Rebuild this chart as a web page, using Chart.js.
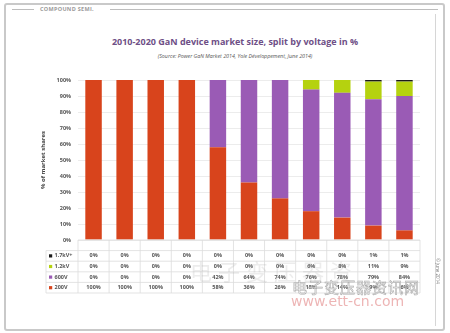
<!DOCTYPE html>
<html>
<head>
<meta charset="utf-8">
<script src="https://cdn.jsdelivr.net/npm/chart.js@4/dist/chart.umd.min.js"></script>
<style>
  html, body { margin: 0; padding: 0; background: #fff; }
  body { width: 450px; height: 333px; position: relative; overflow: hidden; font-family: "Open Sans", sans-serif; }
  .frame { position: absolute; left: 4px; top: 3px; width: 437px; height: 324px; border: 2px solid #c9c9c9; border-radius: 3px; }
  .inner-rule { position: absolute; left: 435px; top: 14px; width: 1px; height: 312px; background: #d6d6d6; }
  .header-line { position: absolute; top: 9px; height: 1px; background: #bdbdbd; }
  .header { position: absolute; left: 40px; top: 5px; font-size: 5.5px; font-weight: bold; color: #9a9a9a; letter-spacing: 0.3px; }
  .title { position: absolute; left: 0; width: 470px; top: 35px; text-align: center; font-size: 9px; font-weight: bold; color: #6e4f86; }
  .subtitle { position: absolute; left: 0; width: 470px; top: 52px; text-align: center; font-size: 5.3px; font-style: italic; color: #555; }
  canvas#chart { position: absolute; left: 0; top: 0; }
  .stamp { position: absolute; left: 425px; top: 268px; font-size: 4.5px; color: #777; transform: rotate(90deg); transform-origin: center; white-space: nowrap; }
  .wm-cn { position: absolute; left: 292px; top: 276px; font-family: "Noto Sans CJK SC", sans-serif; font-size: 15px; color: rgba(255,255,255,0.6); -webkit-text-stroke: 0.6px rgba(150,150,150,0.8); letter-spacing: 1px; }
  .wm-url { position: absolute; left: 291px; top: 293px; font-family: "DejaVu Sans", sans-serif; font-size: 14px; color: rgba(230,150,150,0.7); }
  .wm-back { position: absolute; left: 190px; top: 254px; font-family: "Noto Sans CJK SC", sans-serif; font-size: 22px; color: rgba(170,170,170,0.22); letter-spacing: 6px; }
</style>
</head>
<body>
<div class="frame"></div>
<div class="inner-rule"></div>
<div class="header-line" style="left:12px;width:22px"></div>
<div class="header">COMPOUND SEMI.</div>
<div class="header-line" style="left:110px;width:328px"></div>
<div class="title">2010-2020 GaN device market size, split by voltage in %</div>
<div class="subtitle">(Source: Power GaN Market 2014, Yole Développement, June 2014)</div>
<canvas id="chart" width="450" height="333"></canvas>
<div class="wm-back">电子变压器资</div>
<div class="wm-cn">电子变压器资讯网</div>
<div class="wm-url">www.ett-cn.com</div>
<div class="stamp">© June 2014</div>

<script>
const years = ["2010", "2011", "2012", "2013", "2014", "2015", "2016", "2017", "2018", "2019", "2020"];
const share200V = [100, 100, 100, 100, 58, 36, 26, 18, 14, 9, 6];
const share600V = [0, 0, 0, 0, 42, 64, 74, 76, 78, 79, 84];
const share1200V = [0, 0, 0, 0, 0, 0, 0, 6, 8, 11, 9];
const share1700V = [0, 0, 0, 0, 0, 0, 0, 0, 0, 1, 1];
const yTicks = [0, 10, 20, 30, 40, 50, 60, 70, 80, 90, 100];

// table rows, top to bottom (same order as the chart legend)
const tableRows = [
    { label: "1.7kV+", color: "#1b1b1b", values: share1700V },
    { label: "1.2kV", color: "#b5d20f", values: share1200V },
    { label: "600V", color: "#9a5bb5", values: share600V },
    { label: "200V", color: "#d8441c", values: share200V }
];

// draws the data table under the x axis, using the category scale for columns
const dataTable = {
    id: "dataTable",
    afterDraw(chart) {
        const { ctx, chartArea, scales } = chart;
        const x = scales.x;
        const step = x.getPixelForValue(1) - x.getPixelForValue(0);
        const left = chartArea.left, right = chartArea.right;
        const legendLeft = 46;
        const top = chartArea.bottom;
        const rowH = 10.6;

        ctx.save();
        ctx.strokeStyle = "#dcdcdc";
        ctx.lineWidth = 0.8;

        // horizontal rules
        ctx.beginPath();
        ctx.moveTo(left, top); ctx.lineTo(right, top);
        for (let r = 1; r <= tableRows.length + 1; r++) {
            const y = top + r * rowH;
            ctx.moveTo(legendLeft, y); ctx.lineTo(right, y);
        }
        // vertical rules
        const bottom = top + (tableRows.length + 1) * rowH;
        for (let i = 0; i <= years.length; i++) {
            const xx = x.getPixelForValue(0) - step / 2 + i * step;
            ctx.moveTo(xx, top); ctx.lineTo(xx, bottom);
        }
        ctx.moveTo(legendLeft, top + rowH); ctx.lineTo(legendLeft, bottom);
        ctx.stroke();

        ctx.font = "bold 5.5px 'Open Sans'";
        ctx.textBaseline = "middle";
        tableRows.forEach((row, r) => {
            const y = top + (r + 1.5) * rowH;
            ctx.fillStyle = row.color;
            ctx.fillRect(49, y - 1.6, 3.2, 3.2);
            ctx.fillStyle = "#555";
            ctx.textAlign = "left";
            ctx.fillText(row.label, 54.5, y);
            ctx.textAlign = "center";
            row.values.forEach((v, i) => {
                ctx.fillText(v + "%", x.getPixelForValue(i), y);
            });
        });
        ctx.restore();
    }
};

new Chart("chart", {
    type: "bar",
    data: {
        labels: years,
        datasets: [
            { label: "200V", data: share200V, backgroundColor: "#d8441c" },
            { label: "600V", data: share600V, backgroundColor: "#9a5bb5" },
            { label: "1.2kV", data: share1200V, backgroundColor: "#b5d20f" },
            { label: "1.7kV+", data: share1700V, backgroundColor: "#1b1b1b" }
        ]
    },
    options: {
        responsive: false,
        animation: false,
        layout: { padding: { left: 40, right: 30, top: 80, bottom: 83 } },
        datasets: { bar: { categoryPercentage: 1, barPercentage: 0.53 } },
        plugins: {
            legend: { display: false },
            tooltip: { enabled: false }
        },
        scales: {
            x: {
                stacked: true,
                grid: { display: false },
                border: { display: false },
                ticks: { color: "#555", font: { family: "Open Sans", size: 5.5, weight: "bold" }, padding: 2 },
                afterFit: (s) => { s.height = 10; }
            },
            y: {
                stacked: true,
                min: 0,
                max: 100,
                afterBuildTicks: (s) => { s.ticks = yTicks.map(v => ({ value: v })); },
                grid: { color: "#ececec", drawTicks: false },
                border: { display: false },
                ticks: {
                    color: "#555",
                    font: { family: "Open Sans", size: 5.5, weight: "bold" },
                    padding: 7,
                    callback: (value) => value + "%"
                },
                title: {
                    display: true,
                    text: "% of market shares",
                    color: "#444",
                    font: { family: "Open Sans", size: 6, weight: "bold" },
                    padding: 0
                },
                afterFit: (s) => { s.width = 38; }
            }
        }
    },
    plugins: [dataTable]
});
</script>
</body>
</html>
